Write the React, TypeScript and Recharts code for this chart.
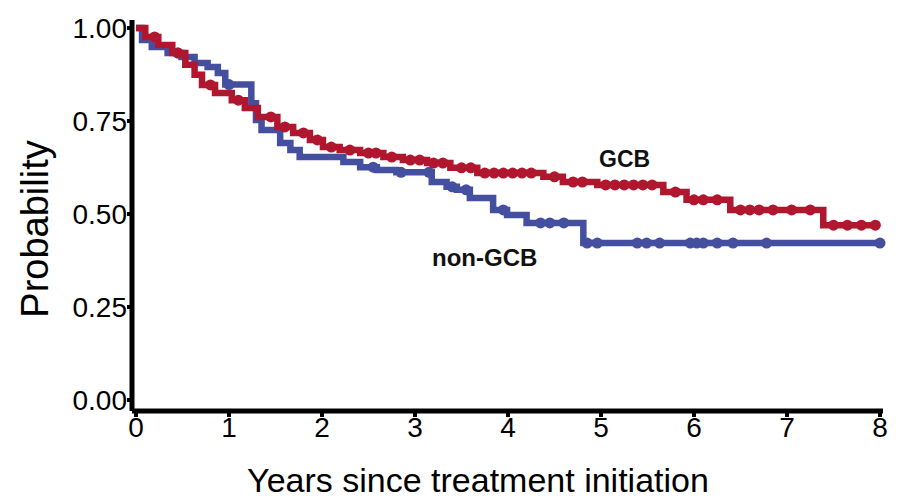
import { LineChart, Line, XAxis, YAxis } from 'recharts'

// Kaplan-Meier step points (years, survival probability) and censoring times
const GCB_TIMES = [0, 0.1, 0.24, 0.39, 0.53, 0.63, 0.71, 0.85, 1.03, 1.17, 1.31, 1.52, 1.69, 1.87, 2.01, 2.19, 2.41, 2.66, 2.87, 3.13, 3.38, 3.67, 4.38, 4.59, 4.96, 5.67, 5.92, 6.39, 7.39]
const GCB_SURV = [1, 0.976, 0.954, 0.933, 0.901, 0.874, 0.847, 0.825, 0.806, 0.785, 0.761, 0.734, 0.718, 0.699, 0.68, 0.672, 0.664, 0.653, 0.645, 0.637, 0.624, 0.61, 0.6, 0.586, 0.578, 0.559, 0.538, 0.511, 0.47]
const GCB_CENSORED = [0.2, 0.45, 0.8, 1.1, 1.45, 1.6, 1.8, 1.95, 2.1, 2.3, 2.5, 2.58, 2.75, 2.95, 3.05, 3.2, 3.3, 3.5, 3.6, 3.75, 3.85, 3.95, 4.05, 4.15, 4.25, 4.5, 4.7, 4.8, 5.05, 5.15, 5.25, 5.35, 5.45, 5.55, 5.8, 6.0, 6.1, 6.25, 6.5, 6.6, 6.7, 6.85, 7.05, 7.25, 7.5, 7.65, 7.8, 7.95]

const NON_GCB_TIMES = [0, 0.065, 0.17, 0.34, 0.49, 0.63, 0.77, 0.88, 0.96, 1.24, 1.29, 1.35, 1.55, 1.66, 1.76, 2.23, 2.41, 2.59, 2.8, 3.18, 3.34, 3.45, 3.59, 3.84, 3.99, 4.2, 4.81]
const NON_GCB_SURV = [1, 0.968, 0.949, 0.933, 0.922, 0.906, 0.895, 0.879, 0.848, 0.798, 0.753, 0.726, 0.691, 0.672, 0.653, 0.64, 0.626, 0.618, 0.612, 0.586, 0.573, 0.565, 0.543, 0.511, 0.497, 0.476, 0.422]
const NON_GCB_CENSORED = [0.45, 1.0, 2.55, 2.85, 3.15, 3.4, 3.55, 3.95, 4.35, 4.45, 4.6, 4.85, 4.96, 5.39, 5.49, 5.63, 5.96, 6.03, 6.1, 6.25, 6.42, 6.78, 8.0]

const X_TICKS = [0, 1, 2, 3, 4, 5, 6, 7, 8]
const Y_TICKS = [0, 0.25, 0.5, 0.75, 1]

const RED = '#B0172F'
const BLUE = '#454FA0'
const FONT = '"Liberation Sans", Arial, sans-serif'

type Pt = { t: number; s: number; c: boolean }

// merge censor marks into the step curve at the current survival level
function buildCurve(times: number[], surv: number[], censored: number[]): Pt[] {
  const pts: Pt[] = times.map((t, i) => ({ t, s: surv[i], c: false }))
  for (const t of censored) {
    let s = surv[0]
    times.forEach((tt, i) => { if (tt <= t) s = surv[i] })
    pts.push({ t, s, c: true })
  }
  return pts.sort((a, b) => a.t - b.t || (a.c ? 1 : -1))
}

const gcb = buildCurve(GCB_TIMES, GCB_SURV, GCB_CENSORED)
const nonGcb = buildCurve(NON_GCB_TIMES, NON_GCB_SURV, NON_GCB_CENSORED)

const censorDot = (color: string) => (props: any) => {
  const { cx, cy, payload, index } = props
  if (!payload?.c) return <g key={`n${index}`} />
  return <circle key={`c${index}`} cx={cx} cy={cy} r={5.5} fill={color} />
}

const axisLine = { stroke: '#000', strokeWidth: 5 }
const tickLine = { stroke: '#000', strokeWidth: 4 }
const tickStyle = { fill: '#000', fontSize: 28, fontFamily: FONT }

export default function App() {
  return (
    <div style={{ position: 'relative', width: 905, height: 498, background: '#fff' }}>
      <style>{'body{margin:0}'}</style>
      <LineChart width={905} height={498} margin={{ top: 20, right: 22, bottom: 27, left: 32 }}>
        <XAxis
          type="number"
          dataKey="t"
          domain={[0, 8]}
          ticks={X_TICKS}
          padding={{ left: 4, right: 3 }}
          height={60}
          axisLine={axisLine}
          tickLine={tickLine}
          tickSize={6}
          tickMargin={0}
          tick={tickStyle}
          label={{
            content: () => (
              <text x={478} y={492} textAnchor="middle" fontSize={34} fontFamily={FONT} fill="#000">
                Years since treatment initiation
              </text>
            ),
          }}
        />
        <YAxis
          type="number"
          domain={[0, 1]}
          ticks={Y_TICKS}
          padding={{ top: 8, bottom: 11 }}
          width={100}
          axisLine={axisLine}
          tickLine={tickLine}
          tickSize={5}
          tickMargin={0}
          tick={tickStyle}
          tickFormatter={(v: number) => v.toFixed(2)}
          label={{
            content: () => (
              <text
                x={35}
                y={229}
                transform="rotate(-90, 35, 229)"
                textAnchor="middle"
                dominantBaseline="central"
                fontSize={38}
                fontFamily={FONT}
                fill="#000"
              >
                Probability
              </text>
            ),
          }}
        />
        <Line
          data={nonGcb}
          dataKey="s"
          type="stepAfter"
          stroke={BLUE}
          strokeWidth={6.5}
          dot={censorDot(BLUE)}
          activeDot={false}
          isAnimationActive={false}
        />
        <Line
          data={gcb}
          dataKey="s"
          type="stepAfter"
          stroke={RED}
          strokeWidth={6.5}
          dot={censorDot(RED)}
          activeDot={false}
          isAnimationActive={false}
        />
      </LineChart>
      <div style={{ position: 'absolute', left: 599, top: 146, fontFamily: FONT, fontWeight: 700, fontSize: 23, color: '#111' }}>
        GCB
      </div>
      <div style={{ position: 'absolute', left: 432, top: 244, fontFamily: FONT, fontWeight: 700, fontSize: 24, color: '#111' }}>
        non-GCB
      </div>
    </div>
  )
}
